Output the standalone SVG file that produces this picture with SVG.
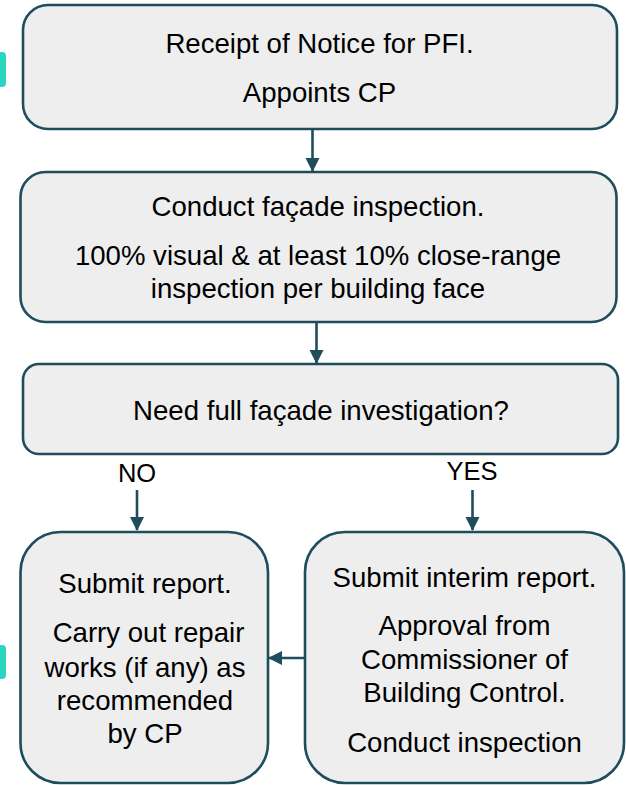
<svg xmlns="http://www.w3.org/2000/svg" width="626" height="785" viewBox="0 0 626 785">
<defs>
<style>
.box{fill:#eeeeee;stroke:#1f4d5b;stroke-width:2.6}
.t{font-family:"Liberation Sans",Arial,sans-serif;font-size:27.6px;fill:#000;text-anchor:middle}
.lbl{font-family:"Liberation Sans",Arial,sans-serif;font-size:25.5px;fill:#000;text-anchor:middle}
.c{stroke:#1f4d5b;stroke-width:2.6;fill:none;marker-end:url(#ah)}
.tab{fill:#2bd6bf}
</style>
<marker id="ah" markerWidth="14" markerHeight="16" refX="13" refY="8" orient="auto" markerUnits="userSpaceOnUse">
<path d="M0,1 L14,8 L0,15 Z" fill="#1f4d5b"/>
</marker>
</defs>
<rect width="626" height="785" fill="#ffffff"/>
<rect class="tab" x="-6" y="52" width="12" height="35" rx="4"/>
<rect class="tab" x="-6" y="645" width="12" height="34" rx="4"/>
<g id="connectors">
<line class="c" x1="312.5" y1="130" x2="312.5" y2="171"/>
<line class="c" x1="316.5" y1="323" x2="316.5" y2="363"/>
<line class="c" x1="137" y1="490" x2="137" y2="530"/>
<line class="c" x1="472.5" y1="490" x2="472.5" y2="530"/>
<line class="c" x1="305" y1="658" x2="269" y2="658"/>
<text class="lbl" x="137" y="482">NO</text>
<text class="lbl" x="472" y="480">YES</text>
</g>
<g id="n1">
<rect class="box" x="23" y="5" width="594" height="124" rx="25"/>
<text class="t" x="319.5" y="53">Receipt of Notice for PFI.</text>
<text class="t" x="319.5" y="102">Appoints CP</text>
</g>
<g id="n2">
<rect class="box" x="20.5" y="172" width="596" height="150" rx="25"/>
<text class="t" x="318" y="216">Conduct façade inspection.</text>
<text class="t" x="318" y="265">100% visual &amp; at least 10% close-range</text>
<text class="t" x="318" y="298">inspection per building face</text>
</g>
<g id="n3">
<rect class="box" x="23" y="364" width="595" height="90" rx="16"/>
<text class="t" x="321" y="420">Need full façade investigation?</text>
</g>
<g id="n4">
<rect class="box" x="20.5" y="532" width="247.5" height="251" rx="40"/>
<text class="t" x="145" y="593">Submit report.</text>
<text class="t" x="148.5" y="642">Carry out repair</text>
<text class="t" x="145" y="677">works (if any) as</text>
<text class="t" x="145" y="710">recommended</text>
<text class="t" x="145" y="743">by CP</text>
</g>
<g id="n5">
<rect class="box" x="305" y="532" width="319" height="251" rx="40"/>
<text class="t" x="464.5" y="587">Submit interim report.</text>
<text class="t" x="464.5" y="635">Approval from</text>
<text class="t" x="464.5" y="669">Commissioner of</text>
<text class="t" x="464.5" y="702">Building Control.</text>
<text class="t" x="464.5" y="752">Conduct inspection</text>
</g>
</svg>
